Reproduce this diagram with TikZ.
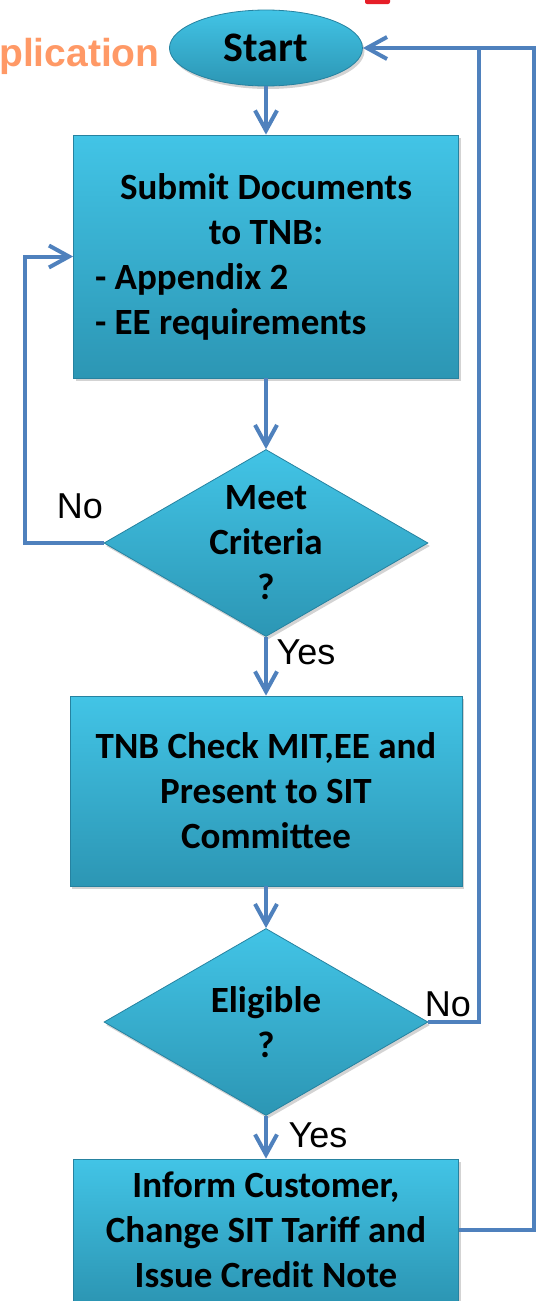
\documentclass[tikz,border=0pt]{standalone}
\usepackage{fontspec}
\setmainfont{Carlito}
\newfontfamily\arialfont{Liberation Sans}
\usetikzlibrary{shapes.geometric,arrows.meta,shadows}

\definecolor{flowblue}{RGB}{79,129,189}
\definecolor{boxtop}{RGB}{66,196,230}
\definecolor{boxbot}{RGB}{44,150,180}
\definecolor{boxedge}{RGB}{38,130,160}
\definecolor{titleorange}{RGB}{255,153,102}
\definecolor{titlered}{RGB}{230,30,40}

\begin{document}
\begin{tikzpicture}[
        x=0.5pt, y=-0.5pt,
        font=\fontsize{18.5}{22.5}\selectfont\bfseries
    ]
    \tikzset{
        stepnode/.style = {draw=boxedge, line width=0.4pt, top color=boxtop, bottom color=boxbot, align=center, inner sep=0pt,
            drop shadow={shadow xshift=1pt, shadow yshift=-1.5pt, opacity=0.35}},
        procbox/.style = {stepnode, rectangle},
        decision/.style = {stepnode, diamond, shape aspect=1.73, minimum width=162pt, minimum height=93.5pt},
        terminal/.style = {stepnode, ellipse, minimum width=96.5pt, minimum height=38pt, font=\fontsize{21}{25}\selectfont\bfseries},
        flow/.style = {-{Straight Barb[length=10pt,width=11pt]}, line width=2pt, flowblue},
        flowline/.style = {line width=2pt, flowblue},
        answer/.style = {font=\arialfont\fontsize{18}{21}\selectfont},
    }
    \useasboundingbox (0,0) rectangle (538,1301);
        % title left over at the top
        \node[font=\arialfont\fontsize{19.5}{22}\selectfont\bfseries, text=titleorange, anchor=base east, inner sep=0pt] at (160,66) (title) {plication};
        \fill[titlered, rounded corners=1pt] (365,-4) rectangle (390,4);
        %
        \node[terminal] at (266,48) (start) {Start};
        \node[procbox, minimum width=192.5pt, minimum height=121.5pt] at (266,256.5) (submit)
            {Submit Documents\\to TNB:\\\makebox[171pt][l]{- Appendix 2}\\\makebox[171pt][l]{- EE requirements}};
        \node[decision] at (266,543) (crit) {Meet\\Criteria\\?};
        \node[procbox, minimum width=196pt, minimum height=95pt] at (266,791) (check) {TNB Check MIT,EE and\\Present to SIT\\Committee};
        \node[decision] at (266,1022) (elig) {Eligible\\?};
        \node[procbox, minimum width=192.5pt, minimum height=71pt] at (266,1230) (inform) {Inform Customer,\\Change SIT Tariff and\\Issue Credit Note};
        %
        \node[answer] at (80,506) (critno) {No};
        \node[answer] at (306,652) (crityes) {Yes};
        \node[answer] at (448,1004) (eligno) {No};
        \node[answer] at (318,1135) (eligyes) {Yes};
        %
        \coordinate (backl) at (25,0);
        \coordinate (backr) at (479,0);
        \coordinate (backo) at (534,0);
        %
        \draw[flow] (start) -- (submit);
        \draw[flow] (submit) -- (crit);
        \draw[flow] (crit) -- (check);
        \draw[flow] (check) -- (elig);
        \draw[flow] (elig) -- (inform);
        %
        \draw[flow] (crit.west) -| (submit.west -| backl) -- (submit.west);
        \draw[flow] (elig.east) -| (start.east -| backr) -- (start.east);
        \draw[flowline] (inform.east) -| (start.east -| backo) -- (start.east -| backr);
\end{tikzpicture}
\end{document}
